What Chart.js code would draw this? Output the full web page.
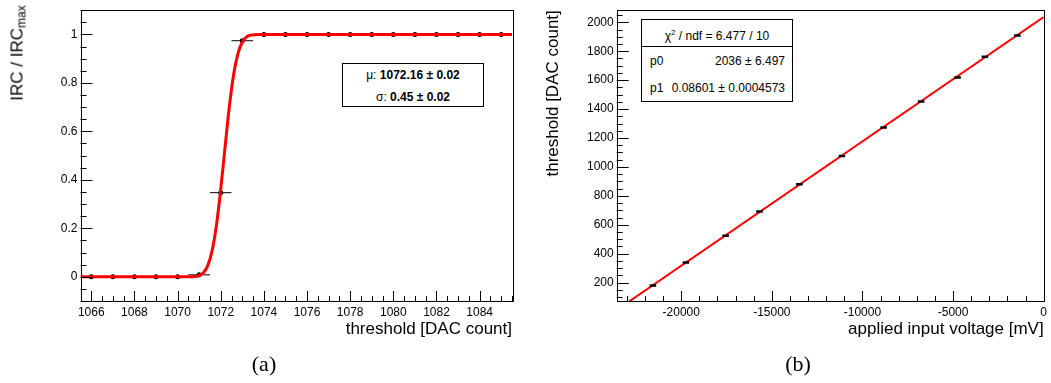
<!DOCTYPE html>
<html>
<head>
<meta charset="utf-8">
<script src="https://cdn.jsdelivr.net/npm/chart.js@4.4.0/dist/chart.umd.min.js"></script>
<style>
  body { margin: 0; background: #fff; width: 1051px; height: 383px; overflow: hidden; position: relative;
         font-family: "Liberation Sans", Arial, sans-serif; color: #000; }
  canvas { position: absolute; top: 0; }
  #chartA { left: 0; }
  #chartB { left: 525px; }
  .ytitle { position: absolute; font-size: 17px; line-height: 1; white-space: nowrap;
            transform: translate(-50%, -50%) rotate(-90deg); }
  .ytitle sub { font-size: 12px; vertical-align: -3px; }
  .caption { position: absolute; top: 353px; line-height: 1; font-family: "Liberation Serif", "Times New Roman", serif;
             font-size: 22px; transform: translateX(-50%); }
  .box { position: absolute; border: 1px solid #000; background: #fff; box-sizing: border-box; }
  .row { position: absolute; left: 0; width: 100%; height: 16px; line-height: 16px; font-size: 12px; white-space: nowrap; }
  .row.center { text-align: center; }
  .row b { font-weight: bold; }
  .lbl { position: absolute; left: 8px; }
  .val { position: absolute; right: 7px; }
  .divider { position: absolute; left: 0; width: 100%; top: 26px; border-top: 1px solid #000; }
  sup { font-size: 8px; vertical-align: 5px; }
</style>
</head>
<body>
<canvas id="chartA" width="525" height="383"></canvas>
<canvas id="chartB" width="526" height="383"></canvas>

<div class="ytitle" style="left:18px; top:53px;">IRC / IRC<sub>max</sub></div>

<div class="box" style="left:342px; top:63px; width:142px; height:44px;">
  <div class="row center" style="top:3px;">μ: <b>1072.16 ± 0.02</b></div>
  <div class="row center" style="top:25px;">σ: <b>0.45 ± 0.02</b></div>
</div>

<div class="box" style="left:641px; top:19px; width:152px; height:83px;">
  <div class="row center" style="top:5px;">χ<sup>2</sup> / ndf = 6.477 / 10</div>
  <div class="divider"></div>
  <div class="row" style="top:33px;"><span class="lbl">p0</span><span class="val">2036 ± 6.497</span></div>
  <div class="row" style="top:60px;"><span class="lbl">p1</span><span class="val">0.08601 ± 0.0004573</span></div>
</div>

<div class="caption" style="left:264px;">(a)</div>
<div class="caption" style="left:798px;">(b)</div>

<script>
// (a) IRC scan over the threshold
const scanThreshold = [1066, 1067, 1068, 1069, 1070, 1071, 1072, 1073, 1074, 1075,
                       1076, 1077, 1078, 1079, 1080, 1081, 1082, 1083, 1084, 1085];
const scanIrc = [0, 0, 0, 0, 0, 0.008, 0.347, 0.974, 1, 1,
                 1, 1, 1, 1, 1, 1, 1, 1, 1, 1];
const scanHalfBin = 0.5;
// red fit curve
const erfCurveX = [1065.5, 1070.4, 1070.8, 1071.0, 1071.2, 1071.4, 1071.6, 1071.8, 1072.0,
                   1072.2, 1072.4, 1072.6, 1072.8, 1073.0, 1073.2, 1073.4, 1073.8, 1085.5];
const erfCurveY = [0, 0, 0.001, 0.005, 0.017, 0.046, 0.107, 0.212, 0.361,
                   0.535, 0.703, 0.836, 0.922, 0.969, 0.99, 0.997, 1, 1];
const scanXTicks = [1066, 1068, 1070, 1072, 1074, 1076, 1078, 1080, 1082, 1084];
const scanYTicks = [0, 0.2, 0.4, 0.6, 0.8, 1];

// (b) threshold vs applied voltage
const inputVoltage = [-21560, -19740, -17550, -15680, -13480, -11130, -8830, -6760, -4750, -3240, -1450];
const thresholdDac = [179, 338, 524, 691, 880, 1076, 1273, 1453, 1618, 1762, 1909];
const voltageErr = 180;
const fitLineX = [-23560, 0];
const fitLineY = [10, 2036];
const voltXTicks = [-20000, -15000, -10000, -5000, 0];
const voltYTicks = [200, 400, 600, 800, 1000, 1200, 1400, 1600, 1800, 2000];

const FONT = '"Liberation Sans", Arial, sans-serif';

function pts(xs, ys) {
  return xs.map((x, i) => ({ x: x, y: ys[i] }));
}

// horizontal error bars as separate segments
function errSegments(xs, ys, e) {
  const out = [];
  xs.forEach((x, i) => {
    out.push({ x: x - e, y: ys[i] }, { x: x + e, y: ys[i] }, { x: x, y: null });
  });
  return out;
}

// ROOT style frame with ticks pointing inwards
const rootFrame = {
  id: 'rootFrame',
  afterDatasetsDraw(chart, args, o) {
    const { ctx, chartArea: a, scales: { x, y } } = chart;
    ctx.save();
    ctx.strokeStyle = '#000';
    ctx.lineWidth = 1;
    ctx.beginPath();
    const each = (scale, step, fn) => {
      const k0 = Math.ceil(scale.min / step - 1e-9);
      for (let k = k0; k * step <= scale.max + 1e-9; k++) fn(k * step);
    };
    const isMajor = (v, step) => Math.abs(v / step - Math.round(v / step)) < 1e-6;
    each(x, o.xMinor, (v) => {
      const p = Math.round(x.getPixelForValue(v)) + 0.5;
      const len = isMajor(v, o.xMajor) ? o.xLen : o.xLen / 2;
      ctx.moveTo(p, a.bottom);
      ctx.lineTo(p, a.bottom - len);
    });
    each(y, o.yMinor, (v) => {
      const p = Math.round(y.getPixelForValue(v)) + 0.5;
      const len = isMajor(v, o.yMajor) ? o.yLen : o.yLen / 2;
      ctx.moveTo(a.left, p);
      ctx.lineTo(a.left + len, p);
    });
    ctx.stroke();
    ctx.strokeRect(Math.round(a.left) + 0.5, Math.round(a.top) + 0.5,
                   Math.round(a.right - a.left), Math.round(a.bottom - a.top));
    ctx.restore();
  }
};

function axes(c) {
  return {
    x: {
      type: 'linear', min: c.xMin, max: c.xMax,
      grid: { display: false, drawTicks: false }, border: { display: false },
      afterBuildTicks: (s) => { s.ticks = c.xTicks.map((v) => ({ value: v })); },
      afterFit: (s) => { s.height = 82; },
      ticks: { autoSkip: false, maxRotation: 0, padding: 4, color: '#000',
               font: { family: FONT, size: 12 }, callback: (v) => String(v) },
      title: { display: true, text: c.xTitle, align: 'end', color: '#000',
               font: { family: FONT, size: 17 }, padding: { top: 0, bottom: 43 } }
    },
    y: {
      type: 'linear', min: c.yMin, max: c.yMax,
      grid: { display: false, drawTicks: false }, border: { display: false },
      afterBuildTicks: (s) => { s.ticks = c.yTicks.map((v) => ({ value: v })); },
      afterFit: (s) => { s.width = c.yWidth; },
      ticks: { autoSkip: false, padding: 3, color: '#000',
               font: { family: FONT, size: 12 }, callback: (v) => String(v) },
      title: { display: !!c.yTitle, text: c.yTitle || '', align: 'end', color: '#000',
               font: { family: FONT, size: 17 }, padding: { top: 18.5, bottom: 0 } }
    }
  };
}

new Chart(document.getElementById('chartA'), {
  type: 'line',
  data: {
    datasets: [
      { data: pts(erfCurveX, erfCurveY), borderColor: '#ff0000', borderWidth: 3,
        pointRadius: 0, cubicInterpolationMode: 'monotone', order: 0 },
      { data: pts(scanThreshold, scanIrc), showLine: false, pointRadius: 2.5,
        pointBackgroundColor: '#000', pointBorderWidth: 0, order: 1 },
      { data: errSegments(scanThreshold, scanIrc, scanHalfBin), borderColor: '#000', borderWidth: 1,
        pointRadius: 0, spanGaps: false, order: 2 }
    ]
  },
  options: {
    responsive: false, animation: false, devicePixelRatio: 1,
    layout: { padding: { top: 5, right: 13, bottom: 0, left: 0 } },
    plugins: {
      legend: { display: false }, tooltip: { enabled: false },
      rootFrame: { xMajor: 2, xMinor: 0.5, xLen: 10, yMajor: 0.2, yMinor: 0.05, yLen: 12 }
    },
    scales: axes({ xMin: 1065.5, xMax: 1085.5, yMin: -0.1, yMax: 1.1, xTicks: scanXTicks, yTicks: scanYTicks,
                   yWidth: 80.5, xTitle: 'threshold [DAC count]' })
  },
  plugins: [rootFrame]
});

new Chart(document.getElementById('chartB'), {
  type: 'line',
  data: {
    datasets: [
      { data: errSegments(inputVoltage, thresholdDac, voltageErr), borderColor: '#000', borderWidth: 2.5,
        pointRadius: 0, spanGaps: false, order: 0 },
      { data: pts(fitLineX, fitLineY), borderColor: '#ff0000', borderWidth: 2,
        pointRadius: 0, order: 1 }
    ]
  },
  options: {
    responsive: false, animation: false, devicePixelRatio: 1,
    layout: { padding: { top: 5, right: 4, bottom: 0, left: 0 } },
    plugins: {
      legend: { display: false }, tooltip: { enabled: false },
      rootFrame: { xMajor: 5000, xMinor: 1000, xLen: 10, yMajor: 200, yMinor: 50, yLen: 12 }
    },
    scales: axes({ xMin: -23560, xMax: 0, yMin: 72.5, yMax: 2084, xTicks: voltXTicks, yTicks: voltYTicks,
                   yWidth: 91.7, xTitle: 'applied input voltage [mV]', yTitle: 'threshold [DAC count]' })
  },
  plugins: [rootFrame]
});
</script>
</body>
</html>
